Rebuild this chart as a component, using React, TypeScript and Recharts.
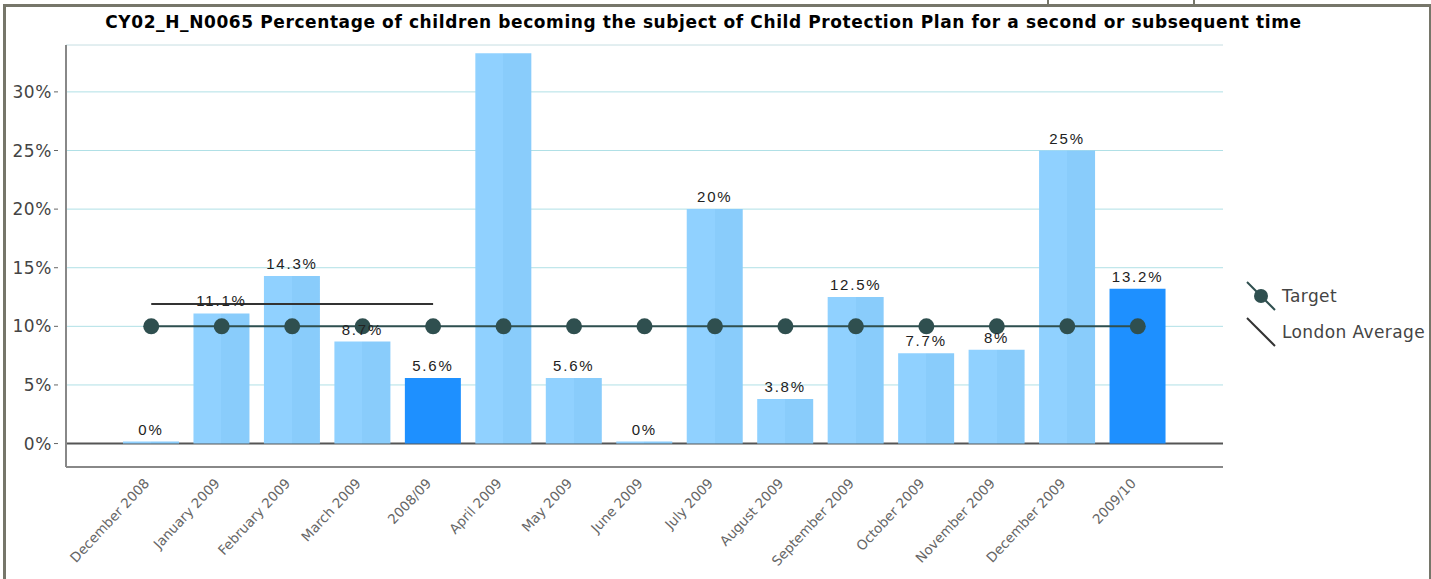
import React from "react";
import {
  ComposedChart,
  Bar,
  Line,
  XAxis,
  YAxis,
  CartesianGrid,
  Cell,
  LabelList,
} from "recharts";

const categories = [
  "December 2008",
  "January 2009",
  "February 2009",
  "March 2009",
  "2008/09",
  "April 2009",
  "May 2009",
  "June 2009",
  "July 2009",
  "August 2009",
  "September 2009",
  "October 2009",
  "November 2009",
  "December 2009",
  "2009/10",
];
const percentages = [0, 11.1, 14.3, 8.7, 5.6, 33.3, 5.6, 0, 20, 3.8, 12.5, 7.7, 8, 25, 13.2];
const valueLabels = ["0%", "11.1%", "14.3%", "8.7%", "5.6%", "", "5.6%", "0%", "20%", "3.8%", "12.5%", "7.7%", "8%", "25%", "13.2%"];
const targetValues = [10, 10, 10, 10, 10, 10, 10, 10, 10, 10, 10, 10, 10, 10, 10];
const londonAverage = [11.9, 11.9, 11.9, 11.9, 11.9, null, null, null, null, null, null, null, null, null, null];
const yTicks = [0, 5, 10, 15, 20, 25, 30];

const TITLE =
  "CY02_H_N0065 Percentage of children becoming the subject of Child Protection Plan for a second or subsequent time";

const LIGHT = "url(#lightBar)";
const DARK = "#1e90ff";
const TARGET_COLOR = "#2f4f4f";
const LONDON_COLOR = "#333333";
const FRAME = "#76766a";
const FONT = "'DejaVu Sans', Verdana, sans-serif";

const data = categories.map((name, i) => ({
  name,
  value: percentages[i],
  label: valueLabels[i],
  target: targetValues[i],
  london: londonAverage[i],
  annual: name.includes("/"),
}));

const legendItems = [
  { name: "Target", color: TARGET_COLOR, dot: true },
  { name: "London Average", color: LONDON_COLOR, dot: false },
];

function XTick(props: any) {
  const { x, y, payload } = props;
  const tx = x - 1;
  const ty = y + 17;
  return (
    <text
      x={tx}
      y={ty}
      transform={`rotate(-47, ${tx}, ${ty})`}
      textAnchor="end"
      fill="#666"
      fontSize={13.5}
      fontFamily={FONT}
    >
      {payload.value}
    </text>
  );
}

function YTick(props: any) {
  const { x, y, payload } = props;
  return (
    <g>
      <line x1={x - 4} x2={x} y1={y} y2={y} stroke="#666" strokeWidth={1} />
      <text x={x - 6} y={y + 6} textAnchor="end" fill="#444" fontSize={17} letterSpacing={0.6} fontFamily={FONT}>
        {payload.value}%
      </text>
    </g>
  );
}

function BarLabel(props: any) {
  const { x, y, width, value } = props;
  if (!value) return null;
  return (
    <text
      x={x + width / 2}
      y={y - 7}
      textAnchor="middle"
      fill="#222"
      fontSize={15}
      fontFamily="'Liberation Sans', Arial, sans-serif"
      letterSpacing={1.8}
    >
      {value}
    </text>
  );
}

function ChartLegend() {
  return (
    <div
      style={{
        position: "absolute",
        left: 1245,
        top: 278,
        fontFamily: FONT,
        fontSize: 17,
        letterSpacing: 0.4,
        color: "#444",
      }}
    >
      {legendItems.map((item) => (
        <div key={item.name} style={{ display: "flex", alignItems: "center", height: 36 }}>
          <svg width={32} height={32} style={{ marginRight: 5 }}>
            <line x1={2} y1={2} x2={30} y2={30} stroke={item.color} strokeWidth={2} />
            {item.dot && <circle cx={16} cy={16} r={7} fill={item.color} />}
          </svg>
          <span>{item.name}</span>
        </div>
      ))}
    </div>
  );
}

export default function App() {
  return (
    <div style={{ position: "absolute", left: 0, top: 0, width: 1431, height: 579, background: "#fff" }}>
      <div style={{ position: "absolute", left: 3, top: 4, width: 1428, height: 3, background: FRAME }} />
      <div style={{ position: "absolute", left: 3, top: 4, width: 3, height: 575, background: FRAME }} />
      <div style={{ position: "absolute", left: 1429, top: 4, width: 2, height: 575, background: FRAME }} />
      <div style={{ position: "absolute", left: 1047, top: 0, width: 2, height: 5, background: FRAME }} />
      <div style={{ position: "absolute", left: 1193, top: 0, width: 2, height: 5, background: FRAME }} />
      <div
        style={{
          position: "absolute",
          left: 0,
          top: 12,
          width: 1407,
          textAlign: "center",
          fontFamily: FONT,
          fontWeight: "bold",
          fontSize: 17,
          letterSpacing: 0.6,
          color: "#000",
          whiteSpace: "nowrap",
        }}
      >
        {TITLE}
      </div>
      <ComposedChart
        width={1431}
        height={579}
        data={data}
        margin={{ top: 45, right: 208, bottom: 12, left: 6 }}
        style={{ position: "absolute", left: 0, top: 0 }}
      >
        <defs>
          <linearGradient id="lightBar" x1="0" y1="0" x2="1" y2="0">
            <stop offset="0%" stopColor="#90d1ff" />
            <stop offset="50%" stopColor="#90d1ff" />
            <stop offset="50%" stopColor="#89ccfb" />
            <stop offset="100%" stopColor="#89ccfb" />
          </linearGradient>
        </defs>
        <CartesianGrid horizontal vertical={false} stroke="#b0e0e6" strokeWidth={1} />
        <CartesianGrid horizontal vertical={false} horizontalValues={[34]} stroke="#eeeeee" />
        <CartesianGrid horizontal vertical={false} horizontalValues={[0]} stroke="#555" strokeWidth={2} />
        <XAxis
          dataKey="name"
          height={100}
          padding={{ left: 50, right: 50 }}
          axisLine={{ stroke: "#888", strokeWidth: 2 }}
          tickLine={false}
          tickSize={0}
          tickMargin={0}
          interval={0}
          tick={<XTick />}
        />
        <YAxis
          width={60}
          domain={[-2, 34]}
          ticks={yTicks}
          allowDataOverflow
          axisLine={{ stroke: "#888", strokeWidth: 2 }}
          tickLine={false}
          tickSize={6}
          tickMargin={2}
          tick={<YTick />}
        />
        <Bar dataKey="value" barSize={56} minPointSize={2} isAnimationActive={false}>
          {data.map((d) => (
            <Cell key={d.name} fill={d.annual ? DARK : LIGHT} />
          ))}
          <LabelList dataKey="label" content={<BarLabel />} />
        </Bar>
        <Line
          dataKey="london"
          name="London Average"
          stroke={LONDON_COLOR}
          strokeWidth={2}
          dot={false}
          activeDot={false}
          connectNulls={false}
          isAnimationActive={false}
        />
        <Line
          dataKey="target"
          name="Target"
          stroke={TARGET_COLOR}
          strokeWidth={2}
          dot={{ r: 8, fill: TARGET_COLOR, stroke: "none" }}
          activeDot={false}
          isAnimationActive={false}
        />
      </ComposedChart>
      <ChartLegend />
    </div>
  );
}
